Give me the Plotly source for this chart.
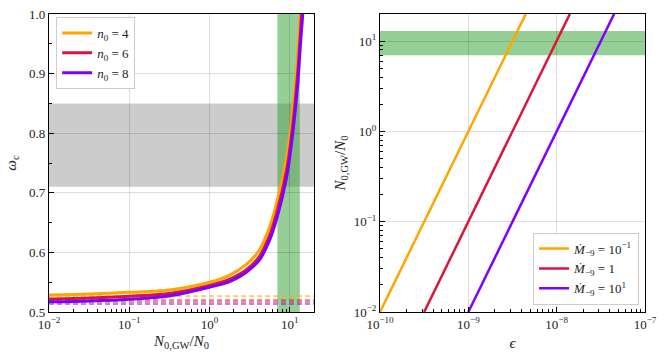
import plotly.graph_objects as go
from plotly.subplots import make_subplots

# ---------------- data: left panel ----------------
n0_labels = ["4", "6", "8"]
colors = ["#FFA500", "#DC143C", "#7F00FF"]

orange_N = [0.01, 0.0316, 0.1, 0.316, 1.0, 1.78, 2.82, 4.17, 5.5, 6.82, 9.17, 11.1, 12.6, 13.5]
orange_w = [0.5285, 0.530, 0.533, 0.537, 0.550, 0.562, 0.579, 0.604, 0.640, 0.682, 0.761, 0.850, 0.935, 1.0]

red_N = [0.01, 0.0316, 0.1, 0.316, 1.0, 1.78, 2.82, 4.17, 5.5, 6.82, 9.17, 11.1, 12.6, 13.5, 14.0]
red_w = [0.522, 0.5235, 0.5265, 0.531, 0.5445, 0.555, 0.570, 0.593, 0.626, 0.665, 0.740, 0.825, 0.905, 0.965, 1.0]

purple_N = [0.01, 0.0316, 0.1, 0.316, 1.0, 1.78, 2.82, 4.17, 5.5, 6.82, 9.17, 11.1, 12.6, 13.5, 14.5]
purple_w = [0.517, 0.5185, 0.5215, 0.527, 0.5415, 0.551, 0.566, 0.587, 0.618, 0.655, 0.728, 0.810, 0.885, 0.945, 1.0]

asym_w = [0.5268, 0.5201, 0.5168, 0.5134]
asym_colors = ["#FFA500", "#DC143C", "#DC143C", "#7F00FF"]
asym_N = [0.01, 20.0]

grey_band = [0.71, 0.85]
green_band_N = [7.0, 13.3]

# ---------------- data: right panel ----------------
mdot_labels = ["10<sup>\u22121</sup>", "1", "10<sup>1</sup>"]
eps_orange = [1e-10, 4.47e-9]
eps_red = [3.16e-10, 1.41e-8]
eps_purple = [1e-9, 4.47e-8]
Nline = [0.01, 20.0]
green_band_right = [7.0, 13.0]

# tick labels
left_xticks = [0.01, 0.1, 1, 10]
left_xtext = ["10<sup>\u22122</sup>", "10<sup>\u22121</sup>", "10<sup>0</sup>", "10<sup>1</sup>"]
left_yticks = [0.5, 0.6, 0.7, 0.8, 0.9, 1.0]
right_xticks = [1e-10, 1e-9, 1e-8, 1e-7]
right_xtext = ["10<sup>\u221210</sup>", "10<sup>\u22129</sup>", "10<sup>\u22128</sup>", "10<sup>\u22127</sup>"]
right_yticks = [0.01, 0.1, 1, 10]
right_ytext = ["10<sup>\u22122</sup>", "10<sup>\u22121</sup>", "10<sup>0</sup>", "10<sup>1</sup>"]

FONT = "Liberation Serif"

fig = make_subplots(rows=1, cols=2, horizontal_spacing=0.1108)

# dashed asymptotes
for w, c in zip(asym_w, asym_colors):
    fig.add_trace(go.Scatter(x=asym_N, y=[w, w], mode="lines",
                             line=dict(color=c, width=1.0, dash="5px,3px"),
                             showlegend=False, hoverinfo="skip"), row=1, col=1)

for Ns, ws, c, lab in zip([orange_N, red_N, purple_N], [orange_w, red_w, purple_w], colors, n0_labels):
    fig.add_trace(go.Scatter(x=Ns, y=ws, mode="lines",
                             line=dict(color=c, width=3.0, shape="spline", smoothing=0.8),
                             name="<i>n</i><sub>0</sub> = " + lab, legend="legend"), row=1, col=1)

for eps, c, lab in zip([eps_orange, eps_red, eps_purple], colors, mdot_labels):
    fig.add_trace(go.Scatter(x=eps, y=Nline, mode="lines",
                             line=dict(color=c, width=2.5),
                             name="<i>M\u0307</i><sub>\u22129</sub> = " + lab, legend="legend2"), row=1, col=2)

# bands
fig.add_shape(type="rect", xref="x domain", yref="y", x0=0, x1=1, y0=grey_band[0], y1=grey_band[1],
              fillcolor="rgba(0,0,0,0.2)", line_width=0, layer="below")
fig.add_shape(type="rect", xref="x", yref="y domain", x0=green_band_N[0], x1=green_band_N[1], y0=0, y1=1,
              fillcolor="rgba(44,160,44,0.5)", line_width=0, layer="below")
fig.add_shape(type="rect", xref="x2 domain", yref="y2", x0=0, x1=1,
              y0=green_band_right[0], y1=green_band_right[1],
              fillcolor="rgba(44,160,44,0.5)", line_width=0, layer="below")

def log_minor(lo, hi):
    vals = []
    for k in range(lo, hi + 1):
        for d in range(2, 10):
            vals.append(d * 10.0 ** k)
    return vals

axis_common = dict(showline=True, linecolor="black", linewidth=1.2, mirror=True,
                   ticks="inside", ticklen=5, tickwidth=1, tickcolor="black",
                   showgrid=True, gridcolor="rgba(0,0,0,0.13)", gridwidth=1,
                   zeroline=False, tickfont=dict(family=FONT, size=13, color="#222"),
                   title_font=dict(family=FONT, size=15, color="#222"), automargin=False)

fig.update_xaxes(type="log", range=[-2, 1.301], tickmode="array", tickvals=left_xticks, ticktext=left_xtext,
                 minor=dict(ticks="inside", ticklen=3, tickcolor="black", tickmode="array",
                            tickvals=log_minor(-2, 1), showgrid=False),
                 title=dict(text="<i>N</i><sub>0,GW</sub>/<i>N</i><sub>0</sub>", standoff=4),
                 **axis_common, row=1, col=1)
fig.update_yaxes(range=[0.5, 1.0], tickmode="array", tickvals=left_yticks, tickformat=".1f",
                 minor=dict(ticks="inside", ticklen=3, tickcolor="black", dtick=0.05, showgrid=False),
                 title=dict(text="<i>\u03c9</i><sub>c</sub>", standoff=8),
                 **axis_common, row=1, col=1)
fig.update_xaxes(type="log", range=[-10, -7], tickmode="array", tickvals=right_xticks, ticktext=right_xtext,
                 minor=dict(ticks="inside", ticklen=3, tickcolor="black", tickmode="array",
                            tickvals=log_minor(-10, -8), showgrid=False),
                 title=dict(text="<i>\u03f5</i>", standoff=6),
                 **axis_common, row=1, col=2)
fig.update_yaxes(type="log", range=[-2, 1.301], tickmode="array", tickvals=right_yticks, ticktext=right_ytext,
                 minor=dict(ticks="inside", ticklen=3, tickcolor="black", tickmode="array",
                            tickvals=log_minor(-2, 1), showgrid=False),
                 title=dict(text="<i>N</i><sub>0,GW</sub>/<i>N</i><sub>0</sub>", standoff=4),
                 **axis_common, row=1, col=2)

fig.update_layout(
    width=668, height=358,
    margin=dict(l=49, r=23, t=14, b=46),
    plot_bgcolor="white", paper_bgcolor="white",
    font=dict(family=FONT, size=14, color="#222"),
    legend=dict(x=0.012, y=0.99, xanchor="left", yanchor="top",
                bgcolor="rgba(255,255,255,0.9)", bordercolor="#cccccc", borderwidth=1,
                font=dict(family=FONT, size=13), tracegroupgap=0, itemwidth=30),
    legend2=dict(x=0.99, y=0.025, xanchor="right", yanchor="bottom",
                 bgcolor="rgba(255,255,255,0.9)", bordercolor="#cccccc", borderwidth=1,
                 font=dict(family=FONT, size=13), itemwidth=30),
)
fig.update_xaxes(domain=[0, 0.4446], row=1, col=1)
fig.update_xaxes(domain=[0.5554, 1.0], row=1, col=2)

fig.write_html("out.html", config={"displayModeBar": False},
               post_script="document.body.style.margin='0';document.body.style.padding='0';")
